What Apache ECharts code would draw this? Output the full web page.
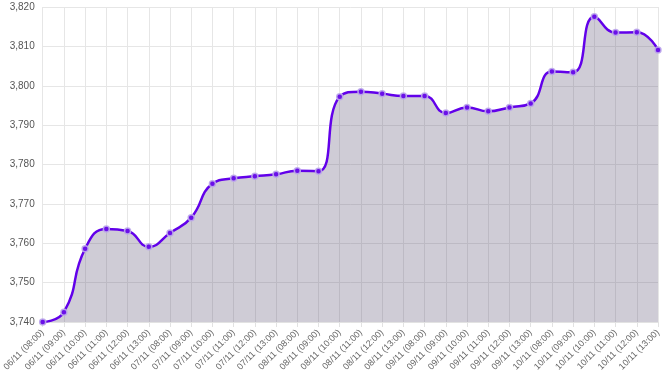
<!DOCTYPE html>
<html>
<head>
    <meta charset="utf-8" />
    <title>chart</title>
    <script src="https://cdn.jsdelivr.net/npm/echarts@6/dist/echarts.min.js"></script>
    <style>
        html, body { margin: 0; padding: 0; background: #fff; }
        #main { width: 667px; height: 378px; }
    </style>
</head>
<body>
<div id="main"></div>
<script>
    // 数据
    var days = ['06/11', '07/11', '08/11', '09/11', '10/11'];
    var hours = ['08:00', '09:00', '10:00', '11:00', '12:00', '13:00'];
    var categories = [];
    days.forEach(function (d) {
        hours.forEach(function (h) { categories.push(d + ' (' + h + ')'); });
    });

    var values = [
        3740.0, 3742.5, 3758.6, 3763.6, 3763.1, 3759.1,
        3762.6, 3766.5, 3775.1, 3776.5, 3777.0, 3777.5,
        3778.4, 3778.3, 3797.2, 3798.5, 3798.0, 3797.4,
        3797.4, 3793.1, 3794.5, 3793.5, 3794.5, 3795.5,
        3803.6, 3803.4, 3817.5, 3813.5, 3813.6, 3809.1
    ];

    var yMin = 3740, yMax = 3820, yStep = 10;

    var chart = echarts.init(document.getElementById('main'));
    chart.setOption({
        animation: false,
        grid: { left: 39, right: 9, top: 7, bottom: 56 },
        xAxis: {
            type: 'category',
            boundaryGap: false,
            data: categories,
            axisLine: { lineStyle: { color: '#e2e2e2' } },
            axisTick: { show: true, length: 5, lineStyle: { color: '#e2e2e2' } },
            axisLabel: {
                rotate: 45, interval: 0, fontSize: 9, color: '#666',
                fontFamily: 'Arial, Liberation Sans', margin: 9
            },
            splitLine: { show: true, lineStyle: { color: '#e6e6e6' } }
        },
        yAxis: {
            type: 'value',
            min: yMin, max: yMax, interval: yStep,
            axisLine: { show: false },
            axisTick: { show: false },
            axisLabel: {
                fontSize: 10, color: '#555', fontFamily: 'Arial, Liberation Sans', margin: 8,
                formatter: function (v) { return v.toLocaleString('en-US'); }
            },
            splitLine: { lineStyle: { color: '#e6e6e6' } }
        },
        series: [{
            type: 'line',
            data: values,
            smooth: true,
            symbol: 'circle',
            symbolSize: 6,
            lineStyle: { color: '#6200ea', width: 2.5 },
            itemStyle: { color: '#6a10e8', borderColor: 'rgba(190,170,235,0.9)', borderWidth: 1.5 },
            areaStyle: { color: 'rgba(95,85,120,0.3)', opacity: 1 },
            z: 3
        }]
    });
</script>
</body>
</html>
